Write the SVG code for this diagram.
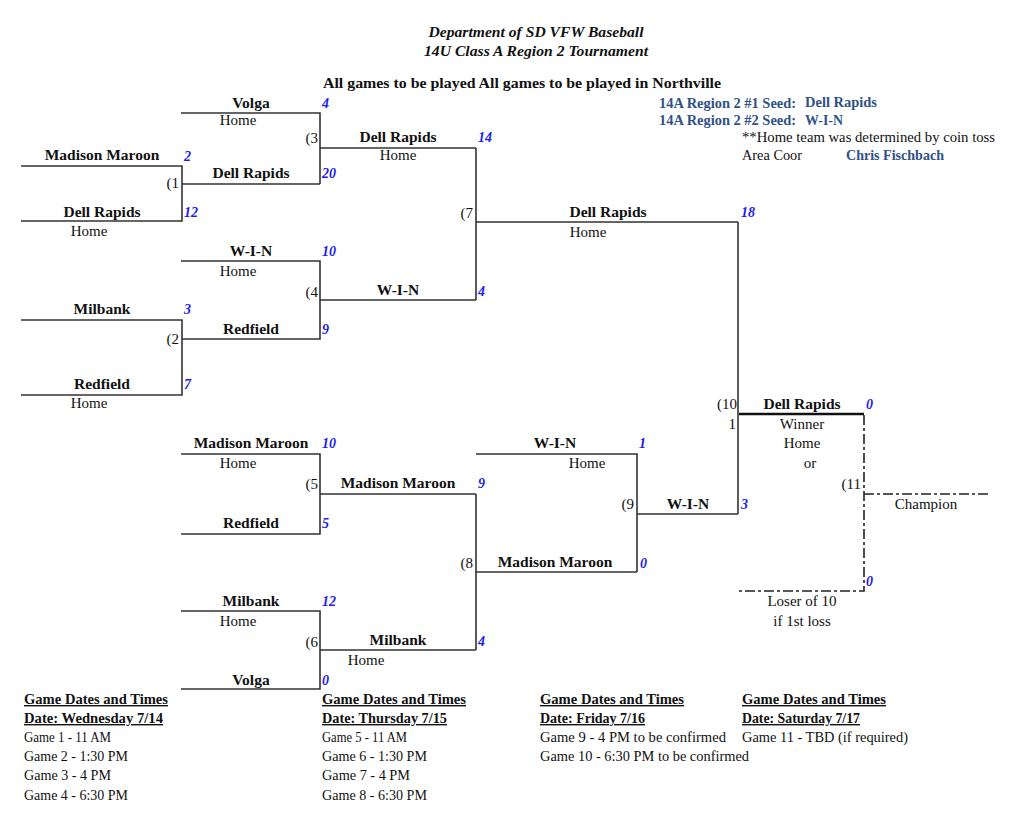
<svg xmlns="http://www.w3.org/2000/svg" width="1024" height="818" viewBox="0 0 1024 818">
<style>
text{font-family:"Liberation Serif","Times New Roman",serif;fill:#111}
.t{font-size:15.5px;font-weight:bold;text-anchor:middle}
.h{font-size:15px;text-anchor:middle}
.s{font-size:14px;font-weight:bold;font-style:italic;fill:#1c1cf0}
.g{font-size:15px;text-anchor:end}
.ti{font-size:14px;font-weight:bold;font-style:italic;text-anchor:middle}
.seed{font-size:14px;font-weight:bold;fill:#2f5288}
.r{font-size:14px}
.bh{font-size:14px;font-weight:bold;text-decoration:underline}
.b{font-size:14px}
.ln{stroke:#333;stroke-width:1.6;fill:none}
.dl{stroke:#222;stroke-width:1.6;fill:none;stroke-dasharray:10,3,3,3}
</style>
<rect width="1024" height="818" fill="#fff"/>
<g id="title">
<text class="ti" x="536" y="37" textLength="215" lengthAdjust="spacingAndGlyphs">Department of SD VFW Baseball</text>
<text class="ti" x="536" y="56" textLength="224" lengthAdjust="spacingAndGlyphs">14U Class A Region 2 Tournament</text>
<text x="323" y="88" style="font-size:15px;font-weight:bold" textLength="398" lengthAdjust="spacingAndGlyphs">All games to be played All games to be played in Northville</text>
</g>
<g id="info">
<text class="seed" x="659" y="108" textLength="137" lengthAdjust="spacingAndGlyphs">14A Region 2 #1 Seed:</text>
<text class="seed" x="805" y="107" textLength="72" lengthAdjust="spacingAndGlyphs">Dell Rapids</text>
<text class="seed" x="659" y="125" textLength="137" lengthAdjust="spacingAndGlyphs">14A Region 2 #2 Seed:</text>
<text class="seed" x="805" y="125" textLength="38" lengthAdjust="spacingAndGlyphs">W-I-N</text>
<text class="r" x="742" y="142" textLength="253" lengthAdjust="spacingAndGlyphs">**Home team was determined by coin toss</text>
<text class="r" x="742" y="160" textLength="60" lengthAdjust="spacingAndGlyphs">Area Coor</text>
<text class="seed" x="846" y="160" textLength="98" lengthAdjust="spacingAndGlyphs">Chris Fischbach</text>
</g>
<g id="connectors">
<path class="ln" d="M21 166H182V221H21M182 184H320"/>
<path class="ln" d="M181 113H320V184M320 148H476"/>
<path class="ln" d="M181 261H320V339H182M320 300H476"/>
<path class="ln" d="M21 320H182V395H21"/>
<path class="ln" d="M476 148V300M476 222H738"/>
<path class="ln" d="M181 454H320V534H181M320 494H476"/>
<path class="ln" d="M181 611H320V689H181M320 650H476"/>
<path class="ln" d="M476 494V650M476 572H637"/>
<path class="ln" d="M476 454H637V572M637 514H738"/>
<path class="ln" d="M738 222V514"/>
<path d="M739 414H864" stroke="#111" stroke-width="2.6" fill="none"/>
<path class="dl" d="M864 415V591H739"/>
<path class="dl" d="M864 494H990"/>
</g>
<g id="game1">
<text class="t" x="102" y="160">Madison Maroon</text>
<text class="s" x="184" y="161">2</text>
<text class="t" x="102" y="217">Dell Rapids</text>
<text class="s" x="184" y="217">12</text>
<text class="h" x="89" y="236">Home</text>
<text class="g" x="179" y="188">(1</text>
</g>
<g id="game2">
<text class="t" x="102" y="314">Milbank</text>
<text class="s" x="184" y="314">3</text>
<text class="t" x="102" y="389">Redfield</text>
<text class="s" x="184" y="389">7</text>
<text class="h" x="89" y="408">Home</text>
<text class="g" x="179" y="344">(2</text>
</g>
<g id="game3">
<text class="t" x="251" y="108">Volga</text>
<text class="s" x="322" y="108">4</text>
<text class="h" x="238" y="125">Home</text>
<text class="t" x="251" y="178">Dell Rapids</text>
<text class="s" x="322" y="178">20</text>
<text class="g" x="318" y="143">(3</text>
</g>
<g id="game4">
<text class="t" x="251" y="256">W-I-N</text>
<text class="s" x="322" y="256">10</text>
<text class="h" x="238" y="276">Home</text>
<text class="t" x="251" y="334">Redfield</text>
<text class="s" x="322" y="334">9</text>
<text class="g" x="318" y="297">(4</text>
</g>
<g id="game5">
<text class="t" x="251" y="448">Madison Maroon</text>
<text class="s" x="322" y="448">10</text>
<text class="h" x="238" y="468">Home</text>
<text class="t" x="251" y="528">Redfield</text>
<text class="s" x="322" y="528">5</text>
<text class="g" x="318" y="489">(5</text>
</g>
<g id="game6">
<text class="t" x="251" y="606">Milbank</text>
<text class="s" x="322" y="606">12</text>
<text class="h" x="238" y="626">Home</text>
<text class="t" x="251" y="685">Volga</text>
<text class="s" x="322" y="685">0</text>
<text class="g" x="318" y="647">(6</text>
</g>
<g id="game7">
<text class="t" x="398" y="142">Dell Rapids</text>
<text class="s" x="478" y="142">14</text>
<text class="h" x="398" y="160">Home</text>
<text class="t" x="398" y="295">W-I-N</text>
<text class="s" x="478" y="296">4</text>
<text class="g" x="473" y="218">(7</text>
</g>
<g id="game8">
<text class="t" x="398" y="488">Madison Maroon</text>
<text class="s" x="478" y="488">9</text>
<text class="t" x="398" y="645">Milbank</text>
<text class="s" x="478" y="646">4</text>
<text class="h" x="366" y="665">Home</text>
<text class="g" x="473" y="568">(8</text>
</g>
<g id="game9">
<text class="t" x="555" y="448">W-I-N</text>
<text class="s" x="639" y="448">1</text>
<text class="h" x="587" y="468">Home</text>
<text class="t" x="555" y="567">Madison Maroon</text>
<text class="s" x="640" y="568">0</text>
<text class="g" x="634" y="509">(9</text>
</g>
<g id="game10">
<text class="t" x="608" y="217">Dell Rapids</text>
<text class="s" x="741" y="217">18</text>
<text class="h" x="588" y="237">Home</text>
<text class="t" x="688" y="509">W-I-N</text>
<text class="s" x="741" y="509">3</text>
<text class="g" x="737" y="409">(10</text>
<text class="g" x="736" y="429">1</text>
</g>
<g id="game11">
<text class="t" x="802" y="409">Dell Rapids</text>
<text class="s" x="866" y="409">0</text>
<text class="h" x="802" y="429">Winner</text>
<text class="h" x="802" y="448">Home</text>
<text class="h" x="810" y="468">or</text>
<text class="g" x="861" y="489">(11</text>
<text class="s" x="866" y="586">0</text>
<text class="h" x="802" y="606">Loser of 10</text>
<text class="h" x="802" y="626">if 1st loss</text>
</g>
<g id="champion">
<text class="h" x="926" y="509">Champion</text>
</g>
<g id="schedule">
<text class="bh" x="24" y="704" textLength="144" lengthAdjust="spacingAndGlyphs">Game Dates and Times</text>
<text class="bh" x="24" y="723" textLength="139" lengthAdjust="spacingAndGlyphs">Date: Wednesday 7/14</text>
<text class="b" x="24" y="742" textLength="87" lengthAdjust="spacingAndGlyphs">Game 1 - 11 AM</text>
<text class="b" x="24" y="761" textLength="104" lengthAdjust="spacingAndGlyphs">Game 2 - 1:30 PM</text>
<text class="b" x="24" y="780" textLength="87" lengthAdjust="spacingAndGlyphs">Game 3 - 4 PM</text>
<text class="b" x="24" y="800" textLength="104" lengthAdjust="spacingAndGlyphs">Game 4 - 6:30 PM</text>
<text class="bh" x="322" y="704" textLength="144" lengthAdjust="spacingAndGlyphs">Game Dates and Times</text>
<text class="bh" x="322" y="723" textLength="125" lengthAdjust="spacingAndGlyphs">Date: Thursday 7/15</text>
<text class="b" x="322" y="742" textLength="85" lengthAdjust="spacingAndGlyphs">Game 5 - 11 AM</text>
<text class="b" x="322" y="761" textLength="105" lengthAdjust="spacingAndGlyphs">Game 6 - 1:30 PM</text>
<text class="b" x="322" y="780" textLength="88" lengthAdjust="spacingAndGlyphs">Game 7 - 4 PM</text>
<text class="b" x="322" y="800" textLength="105" lengthAdjust="spacingAndGlyphs">Game 8 - 6:30 PM</text>
<text class="bh" x="540" y="704" textLength="144" lengthAdjust="spacingAndGlyphs">Game Dates and Times</text>
<text class="bh" x="540" y="723" textLength="105" lengthAdjust="spacingAndGlyphs">Date: Friday 7/16</text>
<text class="b" x="540" y="742" textLength="186" lengthAdjust="spacingAndGlyphs">Game 9 - 4 PM to be confirmed</text>
<text class="b" x="540" y="761" textLength="209" lengthAdjust="spacingAndGlyphs">Game 10 - 6:30 PM to be confirmed</text>
<text class="bh" x="742" y="704" textLength="144" lengthAdjust="spacingAndGlyphs">Game Dates and Times</text>
<text class="bh" x="742" y="723" textLength="118" lengthAdjust="spacingAndGlyphs">Date: Saturday 7/17</text>
<text class="b" x="742" y="742" textLength="166" lengthAdjust="spacingAndGlyphs">Game 11 - TBD (if required)</text>
</g>
</svg>
